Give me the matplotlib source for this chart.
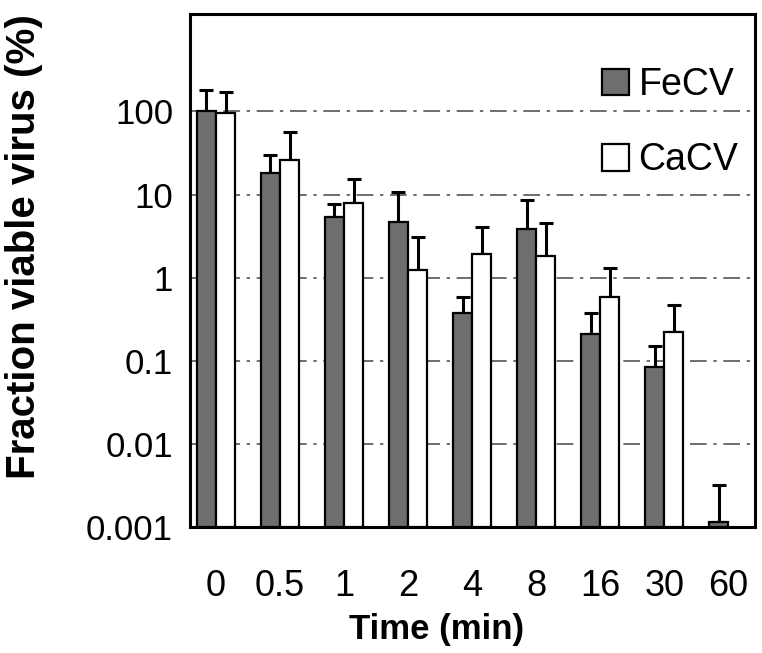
import numpy as np
import matplotlib
matplotlib.use('Agg')
import matplotlib.pyplot as plt

plt.rcParams['font.family'] = ['Liberation Sans', 'DejaVu Sans']

# data (percent viable virus, bar top and upper error cap)
times = ['0', '0.5', '1', '2', '4', '8', '16', '30', '60']
fecv = [100, 18.4, 5.3, 4.7, 0.38, 3.9, 0.21, 0.083, 0.00115]
fecv_hi = [182, 30, 7.6, 10.6, 0.59, 8.5, 0.38, 0.15, 0.0032]
cacv = [95, 26.4, 8.0, 1.25, 1.9, 1.8, 0.59, 0.22, np.nan]
cacv_hi = [172, 56, 15.2, 3.1, 4.1, 4.5, 1.3, 0.47, np.nan]
yticks = [0.001, 0.01, 0.1, 1, 10, 100]
ytick_labels = ['0.001', '0.01', '0.1', '1', '10', '100']

fig = plt.figure(figsize=(7.62, 6.53), dpi=100)
ax = fig.add_axes([0.249, 0.193, 0.742, 0.786])
ax.set_yscale('log')

x = np.arange(len(times))
w = 0.3
base = 0.001

fe = np.array(fecv)
ca = np.array(cacv)
ax.bar(x - w/2, fe - base, w, bottom=base, color='#6e6e6e', edgecolor='black',
       linewidth=1.6, label='FeCV', zorder=3)
ax.bar(x + w/2, ca - base, w, bottom=base, color='white', edgecolor='black',
       linewidth=1.6, label='CaCV', zorder=3)

ax.errorbar(x - w/2, fe, yerr=[np.zeros_like(fe), np.array(fecv_hi) - fe],
            fmt='none', ecolor='black', elinewidth=2.2, capsize=5, capthick=2.2, zorder=2)
ax.errorbar(x + w/2, ca, yerr=[np.zeros_like(ca), np.array(cacv_hi) - ca],
            fmt='none', ecolor='black', elinewidth=2.2, capsize=5, capthick=2.2, zorder=2)

ax.set_ylim(base, 1500)
ax.set_xlim(-0.41, 8.42)
ax.set_yticks(yticks, ytick_labels, fontsize=25)
ax.minorticks_off()
ax.set_xticks(x, times, fontsize=26)
ax.tick_params(axis='y', length=0, pad=12)
ax.tick_params(axis='x', length=0, pad=30)

ax.grid(axis='y', which='major', linestyle=(0, (10, 4, 2, 4)), color='#555555', lw=1.2)
ax.set_axisbelow(True)

for s in ax.spines.values():
    s.set_linewidth(2.2)

ax.set_xlabel('Time (min)', fontsize=25, fontweight='bold', va='center')
ax.xaxis.set_label_coords(0.437, -0.2)
ax.set_ylabel('Fraction viable virus (%)', fontsize=29, fontweight='bold', va='center')
ax.yaxis.set_label_coords(-0.294, 0.546)

ax.legend(loc='upper right', bbox_to_anchor=(1.01, 0.94), frameon=False, fontsize=27,
          handlelength=0.72, handleheight=0.72, handletextpad=0.25, labelspacing=1.05,
          borderaxespad=0.2)

fig.savefig('out.png', dpi=100)
